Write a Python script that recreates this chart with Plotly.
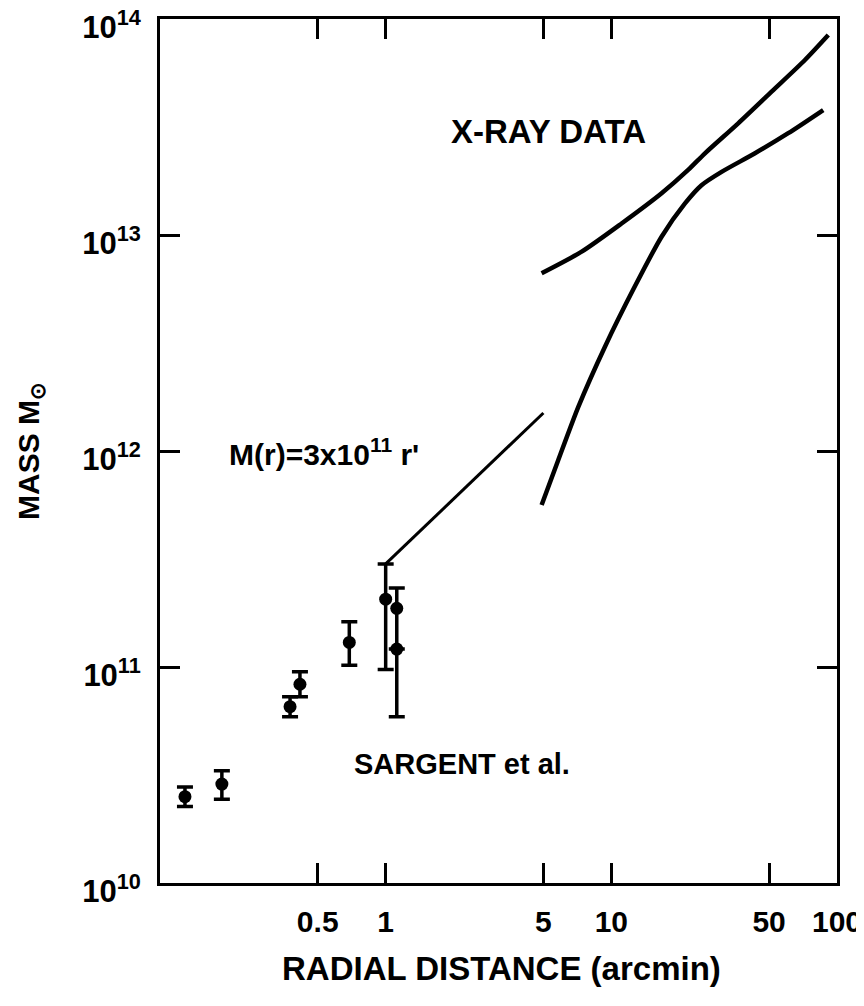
import plotly.graph_objects as go

# Optical (Sargent et al.) mass estimates
r_opt = [0.129, 0.188, 0.377, 0.417, 0.690, 1.00, 1.12, 1.12]
m_opt = [2.51e10, 2.87e10, 6.55e10, 8.32e10, 1.30e11, 2.06e11, 1.87e11, 1.21e11]
m_opt_hi = [2.78e10, 3.31e10, 7.29e10, 9.51e10, 1.62e11, 3.00e11, 2.32e11, 1.21e11]
m_opt_lo = [2.26e10, 2.44e10, 5.89e10, 7.29e10, 1.02e11, 9.75e10, 5.89e10, 1.21e11]

# M(r) = 3e11 r' line
r_lin = [1.0, 5.0]
m_lin = [3.0e11, 1.5e12]

# X-ray data envelope, upper curve
r_xu = [4.91, 7.39, 11.1, 16.7, 21.9, 26.0, 36.5, 51.3, 72.1, 91.5]
m_xu = [6.65e12, 8.37e12, 1.13e13, 1.56e13, 2.0e13, 2.39e13, 3.29e13, 4.61e13, 6.46e13, 8.43e13]

# X-ray data envelope, lower curve
r_xl = [4.91, 5.82, 7.14, 9.37, 12.7, 16.7, 21.2, 25.1, 30.8, 43.3, 60.8, 86.9]
m_xl = [5.62e11, 9.08e11, 1.60e12, 3.04e12, 5.77e12, 9.82e12, 1.40e13, 1.70e13, 1.96e13, 2.39e13, 2.96e13, 3.79e13]

x_tickvals = [0.5, 1, 5, 10, 50, 100]
x_ticktext = ["0.5", "1", "5", "10", "50", "100"]
y_tickvals = [1e10, 1e11, 1e12, 1e13, 1e14]
y_ticktext = ["10<sup>10</sup>", "10<sup>11</sup>", "10<sup>12</sup>", "10<sup>13</sup>", "10<sup>14</sup>"]

FONT = "Liberation Sans, Arial, sans-serif"

err_plus = [h - m for h, m in zip(m_opt_hi, m_opt)]
err_minus = [m - l for m, l in zip(m_opt, m_opt_lo)]

fig = go.Figure()
fig.add_trace(go.Scatter(x=r_lin, y=m_lin, mode="lines",
                         line=dict(color="black", width=3), showlegend=False))
fig.add_trace(go.Scatter(x=r_xu, y=m_xu, mode="lines", line_shape="spline",
                         line=dict(color="black", width=4.5, smoothing=0.7), showlegend=False))
fig.add_trace(go.Scatter(x=r_xl, y=m_xl, mode="lines", line_shape="spline",
                         line=dict(color="black", width=4.5, smoothing=0.7), showlegend=False))
fig.add_trace(go.Scatter(
    x=r_opt, y=m_opt, mode="markers",
    marker=dict(color="black", size=13, symbol="circle"),
    error_y=dict(type="data", symmetric=False, array=err_plus, arrayminus=err_minus,
                 color="black", thickness=3.5, width=8),
    showlegend=False))

common_axis = dict(showline=True, linecolor="black", linewidth=3, mirror="ticks",
                   ticks="inside", ticklen=20, tickwidth=3, tickcolor="black",
                   showgrid=False, zeroline=False, automargin=False,
                   ticklabeloverflow="allow")

fig.update_xaxes(type="log", range=[-1, 2], tickvals=x_tickvals, ticktext=x_ticktext,
                 ticklabelstandoff=10,
                 tickfont=dict(family=FONT, size=30, color="black", weight="bold"),
                 **common_axis)
fig.update_yaxes(type="log", range=[10, 14], tickvals=y_tickvals, ticktext=y_ticktext,
                 ticklabelstandoff=10, ticklabelshift=8,
                 tickfont=dict(family=FONT, size=31, color="black", weight="bold"),
                 **common_axis)

annots = [
    dict(text="X-RAY DATA", x=0.279, y=13.477, size=33),
    dict(text="M(r)=3x10<sup>11</sup> r'", x=-0.704, y=11.995, size=30),
    dict(text="SARGENT et al.", x=-0.151, y=10.551, size=29),
]
for a in annots:
    fig.add_annotation(xref="x", yref="y", showarrow=False, text=a["text"],
                       x=a["x"], y=a["y"], xanchor="left", yanchor="middle",
                       font=dict(family=FONT, size=a["size"], color="black", weight="bold"))

fig.add_annotation(text="RADIAL DISTANCE (arcmin)", xref="paper", yref="paper",
                   x=0.505, y=0, yshift=-85, xanchor="center", yanchor="middle",
                   showarrow=False,
                   font=dict(family=FONT, size=33, color="black", weight="bold"))
fig.add_annotation(text="MASS M<sub>⊙</sub>", xref="paper", yref="paper",
                   x=0, y=0.5, xshift=-130, xanchor="center", yanchor="middle",
                   textangle=-90, showarrow=False,
                   font=dict(family=FONT, size=30, color="black", weight="bold"))

# page body adds an 8px margin: shrink figure so plot area lands at 160..837 x 19..883
fig.update_layout(width=856, height=998,
                  margin=dict(l=152, r=27, t=11, b=123),
                  paper_bgcolor="white", plot_bgcolor="white",
                  showlegend=False)

fig.write_html("out.html")
